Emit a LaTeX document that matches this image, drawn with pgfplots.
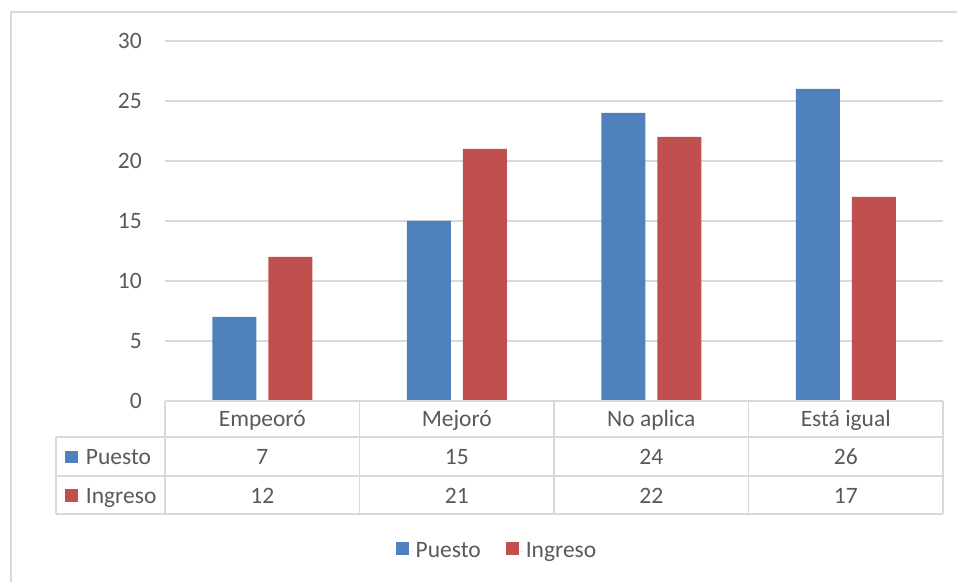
\documentclass[border=0pt]{standalone}
\usepackage{pgfplots}
\pgfplotsset{compat=1.18}
\usepackage{fontspec}
\setmainfont{Carlito}
\definecolor{cblue}{HTML}{4F81BD}
\definecolor{cred}{HTML}{C0504D}
\definecolor{ctext}{HTML}{595959}
\definecolor{cgrid}{HTML}{D9D9D9}
\newcommand\cf{\fontsize{23.5bp}{28bp}\selectfont}
\begin{document}
\begin{tikzpicture}[x=1bp,y=1bp]
\path[use as bounding box] (0,0) rectangle (957,582);
\draw[cgrid, line width=2bp] (11,0) -- (11,570) -- (957,570);
\begin{axis}[
  at={(165bp,181bp)}, anchor=south west,
  scale only axis, width=778bp, height=360bp,
  xmin=-0.5, xmax=3.5, ymin=0, ymax=30,
  ytick={0,5,...,30}, xtick=\empty,
  axis line style={draw=none}, major tick length=0pt,
  ymajorgrids, grid style={cgrid, line width=1.5bp},
  ybar, bar width=44bp, clip=false,
  yticklabel style={font=\cf, text=ctext, anchor=east, inner sep=0pt, xshift=-23bp,
    /pgf/number format/assume math mode=true},
  legend style={at={(0.4267,-0.4167)}, anchor=center, draw=none, fill=none,
    font=\cf, text=ctext, legend columns=2,
    /tikz/every even column/.append style={column sep=23bp},
    inner sep=0pt},
  legend image code/.code={\path (0bp,0bp) -- (18bp,0bp);\fill[#1,draw=none] (0bp,-4bp) rectangle (13bp,9bp);},
]
\addplot[fill=cblue, draw=none, bar shift=-28bp] coordinates {(0,7) (1,15) (2,24) (3,26)};
\addplot[fill=cred, draw=none, bar shift=28bp] coordinates {(0,12) (1,21) (2,22) (3,17)};
\legend{Puesto, Ingreso}
\end{axis}
% data table
\begin{scope}[cgrid, line width=1.5bp]
\draw (165,181) -- (943,181);
\draw (56,145) -- (943,145);
\draw (56,106) -- (943,106);
\draw (56,68) -- (943,68);
\draw (56,145) -- (56,68);
\foreach \x in {165,359.5,554,748.5,943} \draw (\x,181) -- (\x,68);
\end{scope}
\begin{scope}[every node/.style={font=\cf, text=ctext, inner sep=0pt, anchor=base}]
\node at (262.25,155.3) {Empeoró};
\node at (456.75,155.3) {Mejoró};
\node at (651.25,155.3) {No aplica};
\node at (845.75,155.3) {Está igual};
\node at (262.25,117) {7};
\node at (456.75,117) {15};
\node at (651.25,117) {24};
\node at (845.75,117) {26};
\node at (262.25,78.7) {12};
\node at (456.75,78.7) {21};
\node at (651.25,78.7) {22};
\node at (845.75,78.7) {17};
\node[anchor=base west] at (85.7,117) {Puesto};
\node[anchor=base west] at (85.7,78.7) {Ingreso};
\end{scope}
\fill[cblue] (65,118.7) rectangle (78,131);
\fill[cred] (65,80) rectangle (78,92.7);
\end{tikzpicture}
\end{document}
